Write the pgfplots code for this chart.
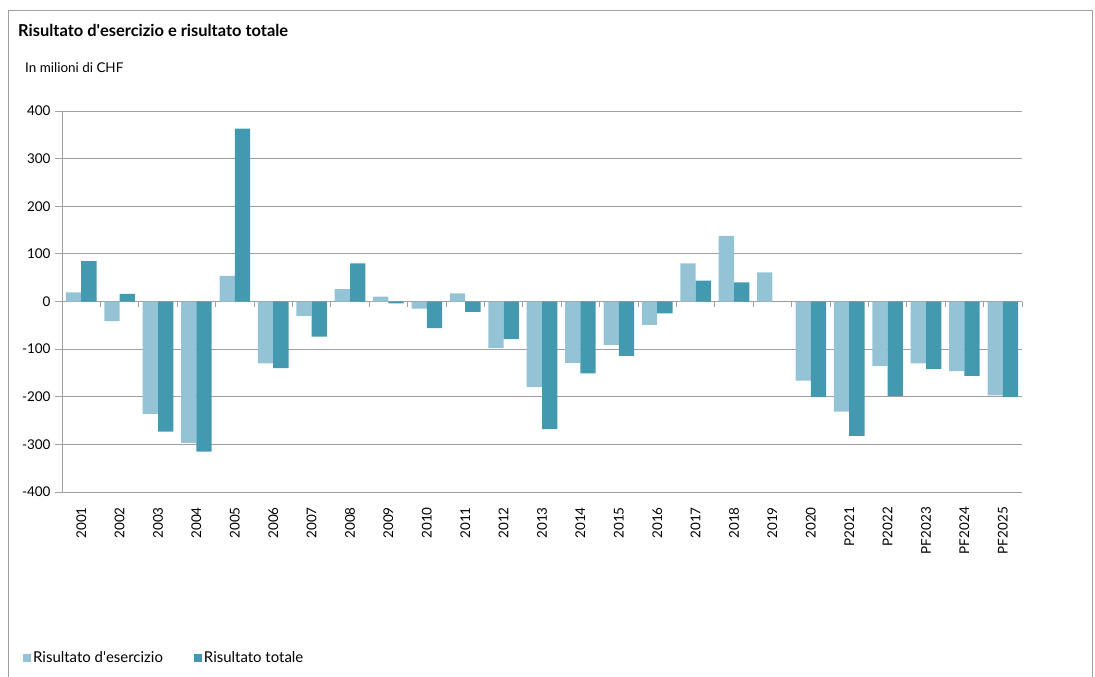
\documentclass[border=0pt]{standalone}
\usepackage{fontspec}
\setmainfont{Lato}
\usepackage{pgfplots}
\pgfplotsset{compat=1.18}
\usepackage{pgfplotstable}

\definecolor{esercizio}{RGB}{147,195,213}
\definecolor{totale}{RGB}{67,153,176}
\definecolor{gridgray}{RGB}{160,160,160}

% values in millions of CHF
\pgfplotstableread{
x eser tot
0   19   85
1  -41   16
2 -236 -273
3 -297 -315
4   54  363
5 -130 -140
6  -30  -74
7   26   80
8   10   -4
9  -15  -56
10  17  -22
11 -98  -79
12 -180 -268
13 -129 -151
14  -91 -114
15  -49  -25
16   80   44
17  138   40
18   61    0
19 -166 -201
20 -231 -282
21 -135 -198
22 -130 -142
23 -146 -156
24 -197 -201
}\datatable

\begin{document}
\begin{tikzpicture}
\path[use as bounding box] (0,0) rectangle (1095bp,677bp);
% outer frame
\draw[gridgray, line width=0.8bp] (8bp,0) -- (8bp,667bp) -- (1092bp,667bp) -- (1092bp,0);
\node[anchor=base west, font=\fontsize{16.5}{18}\selectfont\bfseries, inner sep=0] at (18bp,640bp) {Risultato d\textquotesingle esercizio e risultato totale};
\node[anchor=base west, font=\fontsize{13.5}{15}\selectfont, inner sep=0] at (25bp,604bp) {In milioni di CHF};

\begin{axis}[
    at={(62bp,185bp)}, anchor=south west,
    scale only axis,
    width=960bp, height=381bp,
    clip=false,
    ybar=0pt, bar width=15.3bp,
    xmin=-0.5, xmax=24.5,
    ymin=-400, ymax=400,
    ytick={-400,-300,...,400},
    xtick=data,
    xticklabels={2001,2002,2003,2004,2005,2006,2007,2008,2009,2010,2011,2012,2013,2014,2015,2016,2017,2018,2019,2020,P2021,P2022,PF2023,PF2024,PF2025},
    axis x line*=bottom,
    axis y line*=left,
    x axis line style={draw=none},
    y axis line style={gridgray, line width=0.8bp, -},
    ymajorgrids,
    grid style={gridgray, line width=0.9bp},
    major tick length=7bp,
    ytick style={gridgray, line width=0.8bp},
    tick align=outside,
    xtick style={draw=none},
    ticklabel style={font=\fontsize{13.5}{15}\selectfont},
    xticklabel style={rotate=90, anchor=east, inner sep=0pt},
    xticklabel shift=8bp,
    /pgf/number format/assume math mode=true,
    yticklabel style={xshift=-1bp},
    legend columns=2,
    legend style={at={([xshift=-42bp,yshift=-166bp]axis description cs:0,0)}, anchor=west, draw=none, fill=none,
        font=\fontsize{15}{17}\selectfont, /tikz/every even column/.append style={column sep=29bp}},
    legend image code/.code={\fill[#1] (0bp,-4bp) rectangle (8bp,4bp);},
]
\addplot[fill=esercizio, draw=none] table[x=x, y=eser] {\datatable};
\addplot[fill=totale, draw=none] table[x=x, y=tot] {\datatable};
\legend{Risultato d\textquotesingle esercizio, Risultato totale}
% category separators on the zero line
\foreach \k in {-1,...,24} {
  \edef\tmp{\noexpand\draw[gridgray, line width=0.8bp] (axis cs:\k+0.5,0) -- ([yshift=-5bp]axis cs:\k+0.5,0);}
  \tmp
}
\end{axis}
\end{tikzpicture}
\end{document}
